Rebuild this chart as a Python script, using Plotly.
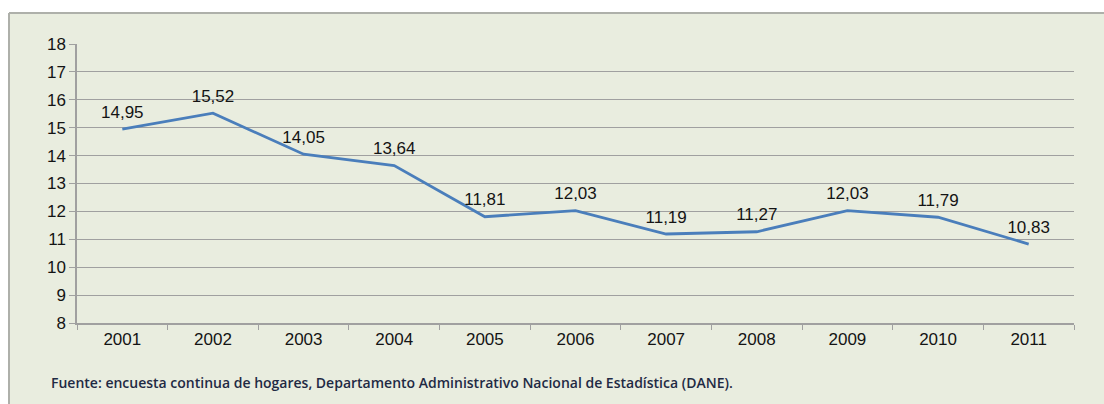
import plotly.graph_objects as go

# Tasa por año, 2001-2011
years = ["2001", "2002", "2003", "2004", "2005", "2006",
         "2007", "2008", "2009", "2010", "2011"]
rates = [14.95, 15.52, 14.05, 13.64, 11.81, 12.03,
         11.19, 11.27, 12.03, 11.79, 10.83]

source_note = ("Fuente: encuesta continua de hogares, Departamento "
               "Administrativo Nacional de Estadística (DANE).")

W, H = 1104, 404
L, R, T, B = 77, 30, 44, 81
pw, ph = W - L - R, H - T - B


def px(x):
    return (x - L) / pw


def py(y):
    return (H - B - y) / ph


panel = "#E9EDDF"
grid = "#A0A0A0"
text_col = "#141414"
font_family = "Arial, Liberation Sans, sans-serif"

fig = go.Figure()
fig.add_trace(go.Scatter(
    x=years, y=rates,
    mode="lines+markers+text",
    line=dict(color="#4A7EBB", width=2.8),
    # transparent markers only lift the value labels off the line
    marker=dict(size=10, color="rgba(0,0,0,0)"),
    text=rates,
    texttemplate="%{y:.2f}",
    textposition="top center",
    textfont=dict(family=font_family, size=17, color=text_col),
    cliponaxis=False,
    hoverinfo="skip",
))

shapes = [
    # tinted panel behind the chart
    dict(type="rect", xref="paper", yref="paper",
         x0=px(9), x1=px(W + 5), y0=py(13), y1=py(H + 5),
         fillcolor=panel, line=dict(width=0), layer="below"),
    # panel border (top and left)
    dict(type="line", xref="paper", yref="paper",
         x0=px(9), x1=px(W + 5), y0=py(13), y1=py(13),
         line=dict(color="#AEB0AA", width=2)),
    dict(type="line", xref="paper", yref="paper",
         x0=px(9), x1=px(9), y0=py(13), y1=py(H + 5),
         line=dict(color="#AEB0AA", width=2)),
]

fig.update_layout(
    width=W, height=H,
    margin=dict(l=L, r=R, t=T, b=B),
    paper_bgcolor="white",
    plot_bgcolor="white",
    separators=",.",
    showlegend=False,
    shapes=shapes,
    font=dict(family=font_family, color=text_col),
    xaxis=dict(
        type="category",
        range=[-0.5, 10.5],
        tickson="boundaries",
        ticks="outside", ticklen=5, tickcolor=grid, tickwidth=1,
        showline=True, linecolor=grid, linewidth=1.5,
        showgrid=False,
        tickfont=dict(size=17, color=text_col),
        fixedrange=True,
    ),
    yaxis=dict(
        range=[8, 18],
        dtick=1,
        ticks="outside", ticklen=6, tickcolor=grid, tickwidth=1,
        showline=True, linecolor=grid, linewidth=1.5,
        showgrid=True, gridcolor=grid, gridwidth=1,
        zeroline=False,
        tickfont=dict(size=17, color=text_col),
        fixedrange=True,
    ),
    annotations=[dict(
        xref="paper", yref="paper",
        x=px(49), y=py(382),
        xanchor="left", yanchor="middle",
        text=source_note, showarrow=False,
        font=dict(family="Open Sans, sans-serif", size=14,
                  color="#1F2A44", weight=600),
    )],
)

fig.write_html("out.html")
